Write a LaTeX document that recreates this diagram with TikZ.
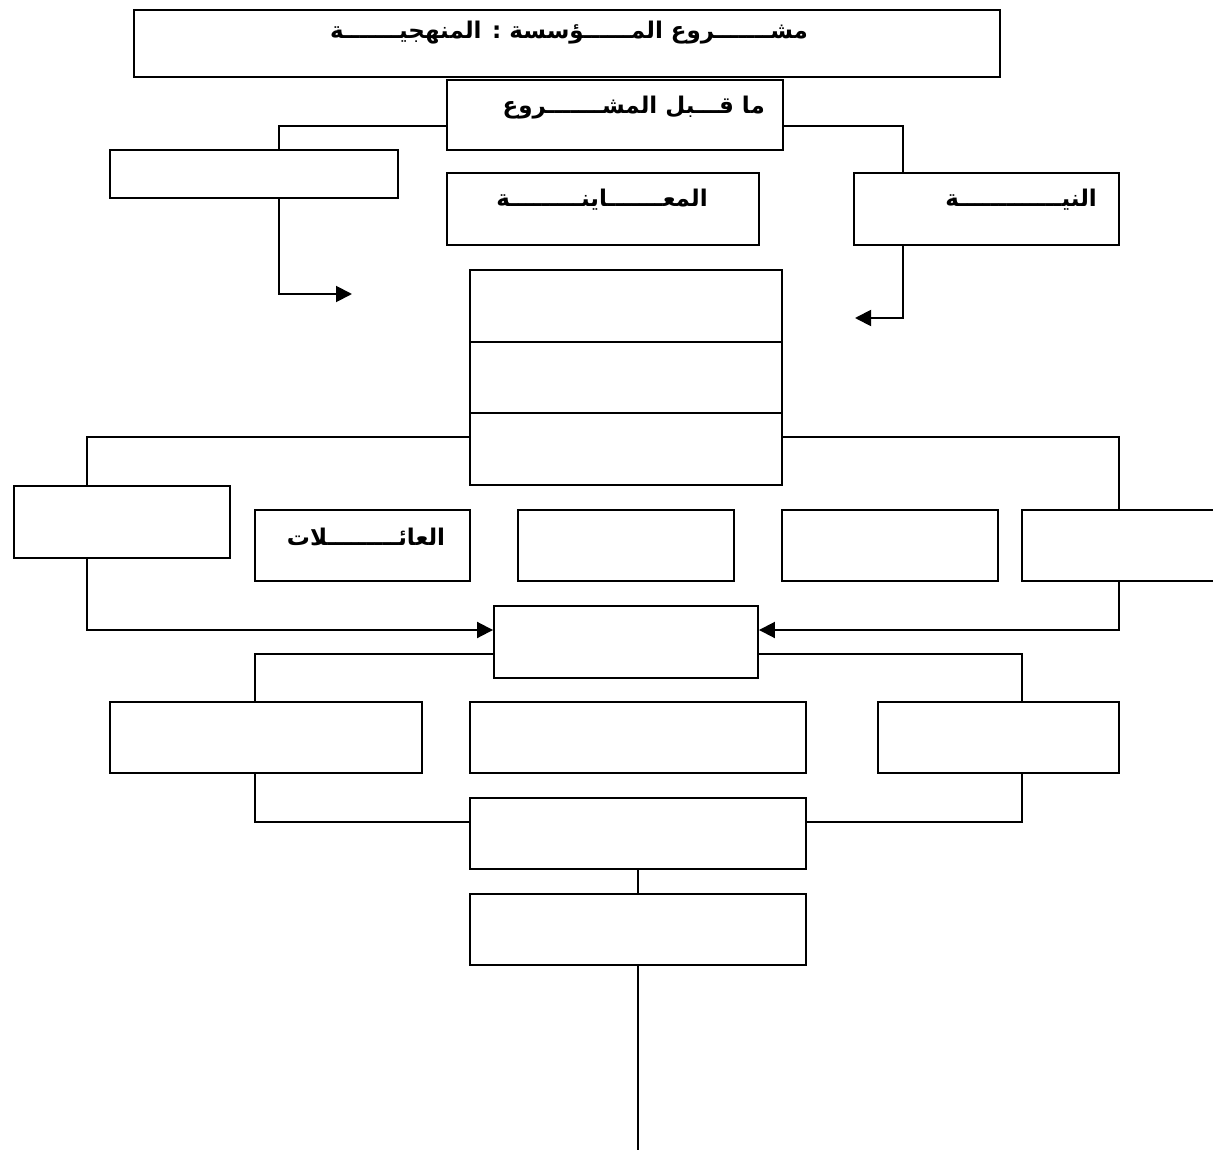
\documentclass[tikz,border=0pt]{standalone}
\usepackage{fontspec}
\usetikzlibrary{arrows.meta,calc}
\newfontfamily\arabicfont[Script=Arabic]{DejaVu Sans}
\TeXXeTstate=1
\tikzset{
  box/.style={draw, line width=1.9pt, rectangle, inner sep=0pt},
  lbl/.style={font=\arabicfont\bfseries\fontsize{23}{27}\selectfont, inner sep=0pt},
  conn/.style={line width=1.9pt},
  arr/.style={conn, -{Triangle[length=16pt,width=16pt]}}
}
\begin{document}
\begin{tikzpicture}[x=1pt,y=-1pt]
\clip (0,0) rectangle (1213,1158);
\fill[white] (0,0) rectangle (1213,1158);
% boxes
\node[box, minimum width=866pt, minimum height=67pt] (title) at (567,43.5) {};
\node[box, minimum width=336pt, minimum height=70pt] (mqbl) at (615,115) {};
\node[box, minimum width=288pt, minimum height=48pt] (lbox) at (254,174) {};
\node[box, minimum width=312pt, minimum height=72pt] (mua) at (603,209) {};
\node[box, minimum width=265pt, minimum height=72pt] (niya) at (986.5,209) {};
\node[box, minimum width=312pt, minimum height=72pt] (s1) at (626,306) {};
\node[box, minimum width=312pt, minimum height=71pt] (s2) at (626,377.5) {};
\node[box, minimum width=312pt, minimum height=72pt] (s3) at (626,449) {};
\node[box, minimum width=216pt, minimum height=72pt] (r1) at (122,522) {};
\node[box, minimum width=215pt, minimum height=71pt] (r2) at (362.5,545.5) {};
\node[box, minimum width=216pt, minimum height=71pt] (r3) at (626,545.5) {};
\node[box, minimum width=216pt, minimum height=71pt] (r4) at (890,545.5) {};
\node[box, minimum width=216pt, minimum height=71pt] (r5) at (1130,545.5) {};
\node[box, minimum width=264pt, minimum height=72pt] (c) at (626,642) {};
\node[box, minimum width=312pt, minimum height=71pt] (q1) at (266,737.5) {};
\node[box, minimum width=336pt, minimum height=71pt] (q2) at (638,737.5) {};
\node[box, minimum width=241pt, minimum height=71pt] (q3) at (998.5,737.5) {};
\node[box, minimum width=336pt, minimum height=71pt] (p1) at (638,833.5) {};
\node[box, minimum width=336pt, minimum height=71pt] (p2) at (638,929.5) {};
% labels
\node[lbl] (t0) at (569,33) {\beginR مشـــــــروع المــــــؤسسة : المنهجيـــــــة\endR};
\node[lbl, anchor=east] (t1) at (765,108) {\beginR ما قـــبل المشـــــــروع\endR};
\node[lbl] (t2) at (602,200) {\beginR المعـــــــاينـــــــــة\endR};
\node[lbl, anchor=east] (t3) at (1097,200) {\beginR النيـــــــــــــة\endR};
\node[lbl] (t4) at (366,537) {\beginR العائـــــــــلات\endR};
% free ends
\coordinate (a1) at (352,294);
\coordinate (a2) at (855,318);
\coordinate (bot) at (638,1150);
% connectors
\draw[conn] ($(mqbl.west)+(0,11)$) -| ($(lbox.north)+(25,0)$);
\draw[conn] ($(mqbl.east)+(0,11)$) -| ($(niya.north)+(-83.5,0)$);
\draw[arr] ($(lbox.south)+(25,0)$) |- (a1);
\draw[arr] ($(niya.south)+(-83.5,0)$) |- (a2);
\draw[conn] ($(s3.west)+(0,-12)$) -| ($(r1.north)+(-35,0)$);
\draw[conn] ($(s3.east)+(0,-12)$) -| ($(r5.north)+(-11,0)$);
\draw[arr] ($(r1.south)+(-35,0)$) |- ($(c.west)+(0,-12)$);
\draw[arr] ($(r5.south)+(-11,0)$) |- ($(c.east)+(0,-12)$);
\draw[conn] ($(c.west)+(0,12)$) -| ($(q1.north)+(-11,0)$);
\draw[conn] ($(c.east)+(0,12)$) -| ($(q3.north)+(23.5,0)$);
\draw[conn] ($(q1.south)+(-11,0)$) |- ($(p1.west)+(0,-11.5)$);
\draw[conn] ($(q3.south)+(23.5,0)$) |- ($(p1.east)+(0,-11.5)$);
\draw[conn] (p1.south) -- (p2.north);
\draw[conn] (p2.south) -- (bot);
\end{tikzpicture}
\end{document}
